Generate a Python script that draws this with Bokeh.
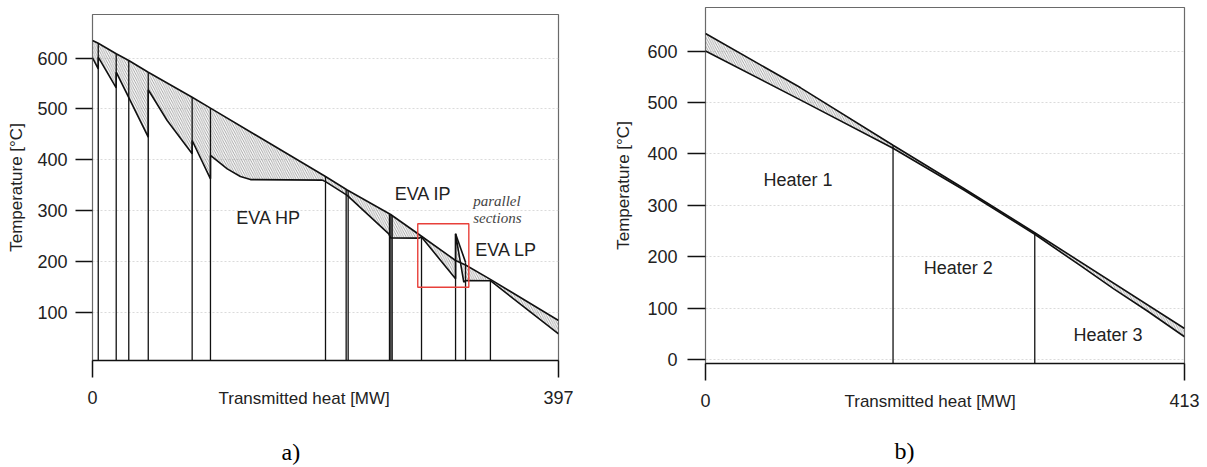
from bokeh.plotting import figure
from bokeh.models import Range1d, FixedTicker, Label, Title
from bokeh.layouts import row
from bokeh.embed import file_html
from bokeh.resources import INLINE

# ---------------- data: panel a) ----------------
a_hot_q = [0, 4.9, 20.2, 30.9, 47.5, 84.9, 100.5, 198.5, 217, 254, 279.4, 309.3, 317.8, 339, 397]
a_hot_T = [635, 629.5, 608.7, 595.5, 572.4, 523.2, 501.6, 367, 340.6, 292.3, 251, 201.8, 193, 164.5, 83.7]

a_cold_q = [0, 4.9, 4.9, 20.2, 20.2, 47.5, 47.5, 63.6, 84.9, 84.9, 100.5, 100.5, 114.8, 126, 134.6,
            195.7, 198.5, 217, 252.4, 254, 278, 280.3, 309.3, 309.3, 316.3, 317.8, 339, 397]
a_cold_T = [600.8, 579, 602, 541.7, 572.4, 444.5, 537.8, 477.4, 411.8, 438, 362.6, 408.5, 382, 367, 361,
            360, 357, 330, 254, 246, 245.7, 248, 165.7, 254.3, 159, 162.4, 162, 57.5]

a_spike_q = [309.3, 317.8]
a_spike_T = [254.3, 198.4]

a_sep_q = [4.9, 20.2, 30.9, 47.5, 84.9, 100.5, 198.5, 216.1, 217.8, 253, 254.2, 255.3, 280.3, 309.3, 317.8, 339]
a_sep_top = [629.5, 608.7, 595.5, 572.4, 523.2, 501.6, 367, 341, 340, 293, 292, 291, 250, 254.3, 198.4, 164]

a_box_q = [277.1, 320.6]
a_box_T = [149.2, 274]

a_xticks = [0, 397]
a_yticks = [100, 200, 300, 400, 500, 600]

# ---------------- data: panel b) ----------------
b_hot_q = [0, 81.7, 161.7, 222.8, 283.9, 413]
b_hot_T = [634, 529, 417, 333, 247, 61]
b_cold_q = [0, 81.7, 161.7, 222.8, 283.9, 323.3, 352, 381, 413]
b_cold_T = [600, 505, 411, 330, 244, 183, 138, 95, 45]
b_sep_q = [161.7, 283.9]
b_sep_top = [417, 247]
b_xticks = [0, 413]
b_yticks = [0, 100, 200, 300, 400, 500, 600]

BASE_T = -10
FONT = "Liberation Sans"


def make_panel(width, bl, br, bt, bb, xr, yr, xticks, yticks, ylab_standoff, xlab_offset,
               cap, cap_offset, cap_standoff):
    p = figure(width=width, height=467, x_range=Range1d(*xr), y_range=Range1d(*yr),
               output_backend="svg", toolbar_location=None,
               min_border_left=bl, min_border_right=br, min_border_top=bt, min_border_bottom=bb)
    if "frame_align" in p.properties():
        p.frame_align = False
    p.outline_line_color = "#6a6a6a"
    p.outline_line_width = 1.2
    p.background_fill_color = "white"
    p.border_fill_color = "white"
    p.xgrid.grid_line_color = None
    p.ygrid.ticker = FixedTicker(ticks=yticks)
    p.ygrid.grid_line_color = "#d2d2d2"
    p.ygrid.grid_line_dash = "2 2"
    p.ygrid.grid_line_width = 0.8
    for ax, ticks in ((p.xaxis, xticks), (p.yaxis, yticks)):
        ax.ticker = FixedTicker(ticks=ticks)
        ax.major_tick_out = 17
        ax.major_tick_in = 0
        ax.minor_tick_line_color = None
        ax.major_tick_line_color = "#111111"
        ax.major_tick_line_width = 1.5
        ax.major_label_text_font = FONT
        ax.major_label_text_font_size = "18px"
        ax.major_label_text_color = "#222222"
        ax.axis_label_text_font = FONT
        ax.axis_label_text_font_size = "17px"
        ax.axis_label_text_font_style = "normal"
        ax.axis_label_text_color = "#222222"
    p.yaxis.axis_line_color = None
    p.yaxis.major_label_standoff = 8
    p.yaxis.axis_label = "Temperature [°C]"
    p.yaxis.axis_label_standoff = ylab_standoff
    p.xaxis.axis_line_color = "#111111"
    p.xaxis.axis_line_width = 1.6
    p.xaxis.major_label_standoff = 13
    p.add_layout(Title(text="Transmitted heat [MW]", align="left", offset=xlab_offset, standoff=-36,
                       vertical_align="top",
                       text_font=FONT, text_font_size="17px", text_font_style="normal",
                       text_color="#222222"), "below")
    p.add_layout(Title(text=cap, align="left", offset=cap_offset, standoff=cap_standoff,
                       vertical_align="bottom",
                       text_font="Liberation Serif", text_font_size="24px",
                       text_font_style="normal", text_color="#000000"), "below")
    return p


def add_text(p, x, y, text, size="18px", font=FONT, style="normal", color="#222222", align="center"):
    p.add_layout(Label(x=x, y=y, text=text, text_font=font, text_font_size=size,
                       text_font_style=style, text_color=color,
                       text_align=align, text_baseline="middle"))


# ---------------- panel a ----------------
pa = make_panel(600, 92, 42, 14, 107, (0, 397), (4.9, 686), a_xticks, a_yticks, 8, 126, "a)", 189, -116)
pa.patch(a_hot_q + a_cold_q[::-1], a_hot_T + a_cold_T[::-1], fill_alpha=0, line_color=None,
         hatch_pattern="\\", hatch_color="#808080", hatch_scale=4.5, hatch_weight=0.7)
pa.segment(x0=a_sep_q, y0=[BASE_T] * len(a_sep_q), x1=a_sep_q, y1=a_sep_top,
           line_color="#111111", line_width=1.3)
pa.line(a_hot_q, a_hot_T, line_color="#111111", line_width=1.6)
pa.line(a_cold_q, a_cold_T, line_color="#111111", line_width=1.6)
pa.line(a_spike_q, a_spike_T, line_color="#111111", line_width=1.6)
pa.quad(left=[a_box_q[0]], right=[a_box_q[1]], bottom=[a_box_T[0]], top=[a_box_T[1]],
        fill_alpha=0, line_color="#e8403a", line_width=1.4)

add_text(pa, 150, 284.5, "EVA HP")
add_text(pa, 281.6, 331.7, "EVA IP")
add_text(pa, 352.4, 222.8, "EVA LP")
add_text(pa, 324.3, 318.5, "parallel", "15px", font="Liberation Serif", style="italic",
         color="#444444", align="left")
add_text(pa, 324.3, 286, "sections", "15px", font="Liberation Serif", style="italic",
         color="#444444", align="left")

# ---------------- panel b ----------------
pb = make_panel(607, 105, 23, 7, 104, (0, 413), (-7, 684.5), b_xticks, b_yticks, 11, 139, "b)", 189, -108)
pb.patch(b_hot_q + b_cold_q[::-1], b_hot_T + b_cold_T[::-1], fill_alpha=0, line_color=None,
         hatch_pattern="\\", hatch_color="#808080", hatch_scale=4.5, hatch_weight=0.7)
pb.segment(x0=b_sep_q, y0=[BASE_T] * len(b_sep_q), x1=b_sep_q, y1=b_sep_top,
           line_color="#111111", line_width=1.3)
pb.line(b_hot_q, b_hot_T, line_color="#111111", line_width=1.6)
pb.line(b_cold_q, b_cold_T, line_color="#111111", line_width=1.6)
pb.yaxis.major_label_standoff = 10
pb.yaxis.major_tick_out = 18

add_text(pb, 79.7, 350, "Heater 1")
add_text(pb, 218, 179.3, "Heater 2")
add_text(pb, 347, 48, "Heater 3")

layout = row(pa, pb)
open("out.html", "w").write(file_html(layout, INLINE))
